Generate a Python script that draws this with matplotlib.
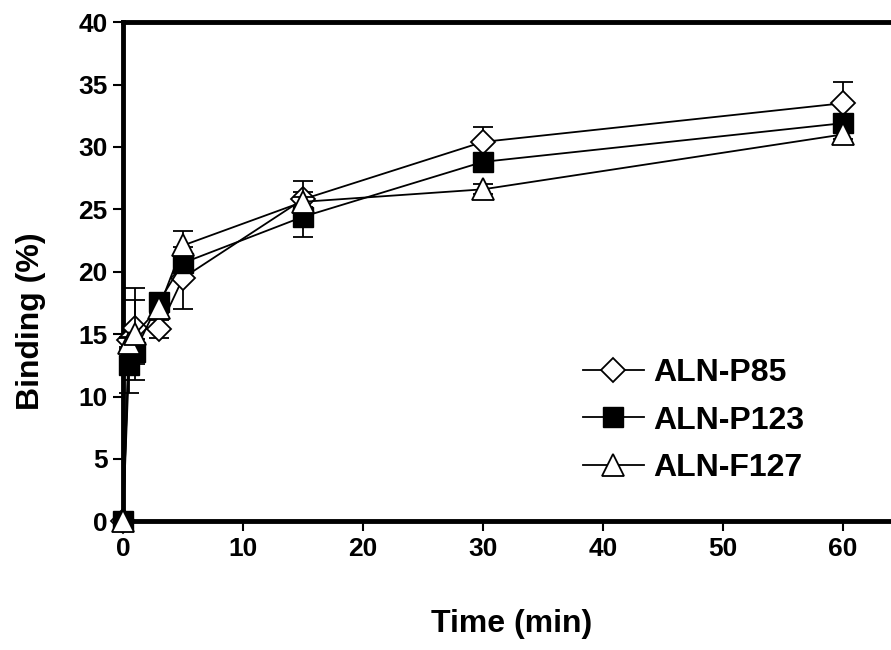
import matplotlib.pyplot as plt

plt.rcParams['font.family'] = ['Liberation Sans', 'DejaVu Sans']
plt.rcParams['font.weight'] = 'bold'

time_min = [0, 0.5, 1, 3, 5, 15, 30, 60]

p85 = [0, 14.5, 15.5, 15.4, 19.5, 25.8, 30.4, 33.5]
p85_err = [0, 0.5, 2.2, 0.7, 2.5, 0.6, 1.2, 1.7]

p123 = [0, 12.5, 13.6, 17.6, 20.7, 24.4, 28.8, 31.9]
p123_err = [0, 2.2, 1.0, 0.4, 0.5, 1.6, 0.5, 0.5]

f127 = [0, 14.3, 15.0, 17.1, 22.1, 25.6, 26.6, 31.0]
f127_err = [0, 0.5, 3.7, 0.4, 1.2, 1.7, 0.4, 0.4]

fig = plt.figure(figsize=(8.91, 6.5), dpi=100)
ax = fig.add_axes([0.138, 0.198, 0.862, 0.768])

style = dict(color='black', lw=1.3, elinewidth=1.3, capsize=7, capthick=1.3, clip_on=False)
ax.errorbar(time_min, p85, yerr=p85_err, marker='D', ms=12, mfc='white', mec='black', mew=1.3,
            label='ALN-P85', zorder=3, **style)
ax.errorbar(time_min, p123, yerr=p123_err, marker='s', ms=14, mfc='black', mec='black',
            label='ALN-P123', zorder=4, **style)
ax.errorbar(time_min, f127, yerr=f127_err, marker='^', ms=16, mfc='white', mec='black', mew=1.3,
            label='ALN-F127', zorder=5, **style)

ax.set_xlim(0, 64)
ax.set_ylim(0, 40)
ax.set_xticks([0, 10, 20, 30, 40, 50, 60])
ax.set_yticks(range(0, 41, 5))
ax.tick_params(axis='both', direction='out', length=7, width=1.5, labelsize=19, pad=4)
for s in ['left', 'bottom', 'top']:
    ax.spines[s].set_linewidth(3.5)
ax.spines['right'].set_visible(False)

ax.set_xlabel('Time (min)', fontsize=23, fontweight='bold')
ax.set_ylabel('Binding (%)', fontsize=23, fontweight='bold')
ax.xaxis.set_label_coords(0.506, -0.175)
ax.yaxis.set_label_coords(-0.10, 0.40)

handles, labels = ax.get_legend_handles_labels()
handles = [h[0] for h in handles]
ax.legend(handles, labels, loc='upper left', bbox_to_anchor=(583 / 891, 1 - 358 / 650),
          bbox_transform=fig.transFigure, frameon=False, borderpad=0, borderaxespad=0,
          handlelength=1.9, handletextpad=0.3, labelspacing=0.55,
          prop={'weight': 'bold', 'size': 23})

fig.savefig('out.png', dpi=100)
